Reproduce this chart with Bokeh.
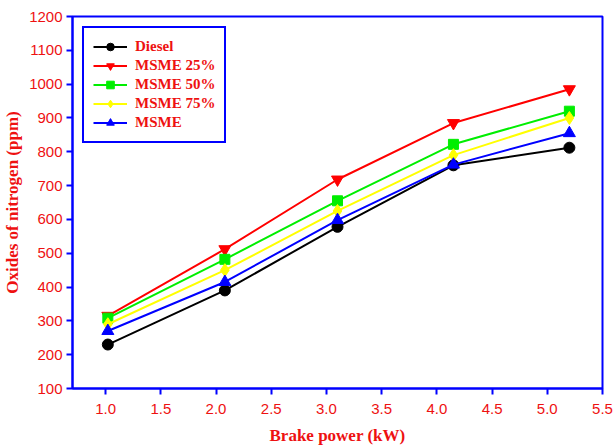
from bokeh.plotting import figure
from bokeh.models import Legend, LegendItem, Range1d, FixedTicker
from bokeh.embed import file_html
from bokeh.resources import INLINE

bp = [1.02, 2.08, 3.10, 4.15, 5.20]
diesel = [230, 390, 578, 760, 812]
msme25 = [315, 512, 718, 885, 985]
msme50 = [308, 482, 655, 822, 920]
msme75 = [290, 450, 625, 790, 900]
msme = [270, 415, 598, 762, 855]

series = [
    ("Diesel", diesel, "#000000", "circle"),
    ("MSME 25%", msme25, "#ff0000", "inverted_triangle"),
    ("MSME 50%", msme50, "#00ee00", "square"),
    ("MSME 75%", msme75, "#ffff00", "diamond"),
    ("MSME", msme, "#0000ff", "triangle"),
]
xticks = [1.0, 1.5, 2.0, 2.5, 3.0, 3.5, 4.0, 4.5, 5.0, 5.5]
yticks = list(range(100, 1201, 100))

p = figure(width=614, height=447, output_backend="svg", toolbar_location=None,
           x_range=Range1d(0.7, 5.5), y_range=Range1d(100, 1200),
           min_border_left=72, min_border_right=12, min_border_top=16, min_border_bottom=59)
p.grid.visible = False
p.outline_line_color = "#0000ff"
p.outline_line_width = 2
p.outline_line_alpha = 1

items = []
sizes = {"circle": 11, "inverted_triangle": 12, "square": 10, "diamond": 13, "triangle": 12}
for name, ys, col, mk in series:
    r1 = p.line(bp, ys, line_color=col, line_width=2)
    r2 = p.scatter(bp, ys, marker=mk, size=sizes[mk], fill_color=col, line_color=col)
    items.append(LegendItem(label=name, renderers=[r1, r2]))

leg = Legend(items=items, location="top_left")
leg.border_line_color = "#0000ff"
leg.border_line_width = 2
leg.border_line_alpha = 1
leg.background_fill_alpha = 1
leg.label_text_font = "Liberation Serif"
leg.label_text_font_style = "bold"
leg.label_text_color = "#ee1111"
leg.label_text_font_size = "15px"
leg.label_height = 19
leg.glyph_height = 19
leg.glyph_width = 34
leg.label_standoff = 8
leg.spacing = 0
leg.margin = 10
leg.padding = 9
p.add_layout(leg)

for ax in (p.xaxis[0], p.yaxis[0]):
    ax.axis_line_color = "#0000ff"
    ax.axis_line_width = 2
    ax.major_tick_line_color = "#0000ff"
    ax.major_tick_line_width = 2
    ax.major_tick_out = 6
    ax.major_tick_in = 0
    ax.minor_tick_line_color = None
    ax.major_label_text_font = "Liberation Sans"
    ax.major_label_text_color = "#ee1111"
    ax.major_label_text_font_size = "15px"
    ax.axis_label_text_font = "Liberation Serif"
    ax.axis_label_text_font_style = "bold"
    ax.axis_label_text_color = "#ee1111"
    ax.axis_label_text_font_size = "17px"

p.xaxis[0].ticker = FixedTicker(ticks=xticks)
p.yaxis[0].ticker = FixedTicker(ticks=yticks)
p.xaxis[0].major_label_overrides = {t: f"{t:.1f}" for t in xticks}
p.xaxis[0].axis_label = "Brake power (kW)"
p.yaxis[0].axis_label = "Oxides of nitrogen (ppm)"
p.xaxis[0].major_label_standoff = 9
p.xaxis[0].axis_label_standoff = 9
p.yaxis[0].major_label_standoff = 4
p.yaxis[0].axis_label_standoff = 4

open("out.html", "w").write(file_html(p, INLINE))
